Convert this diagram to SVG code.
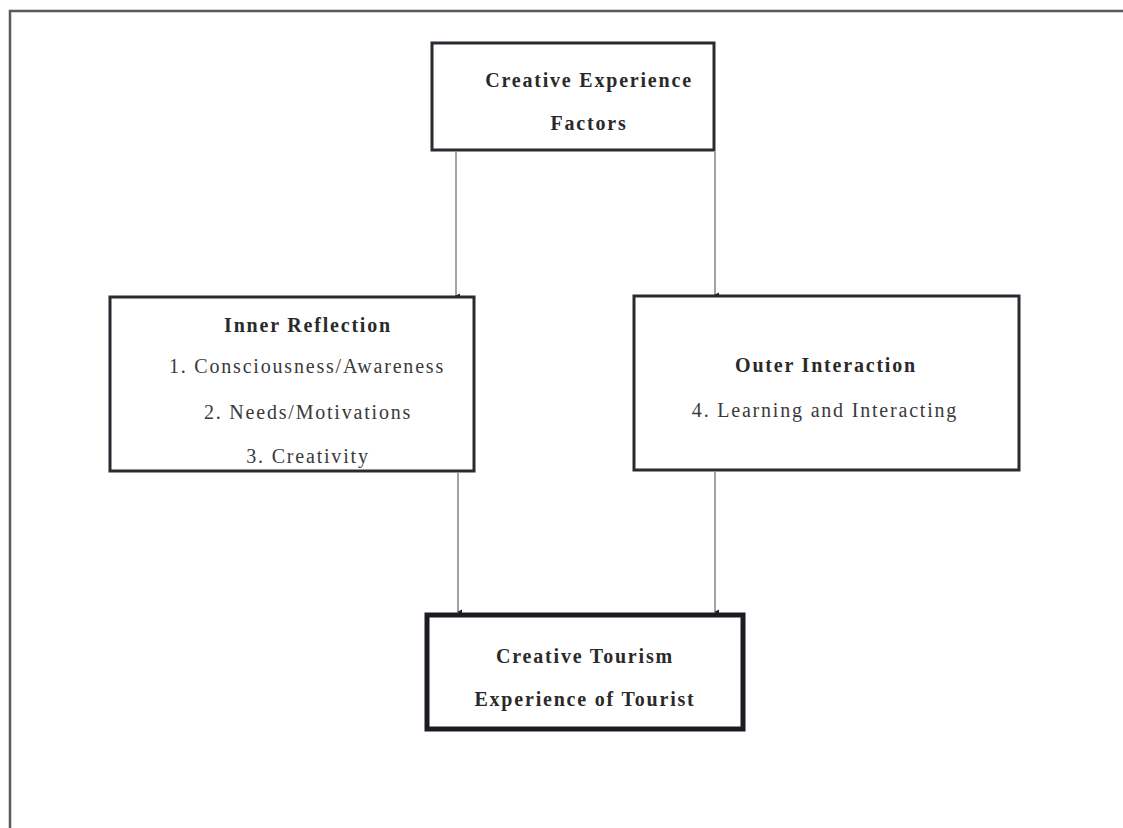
<svg xmlns="http://www.w3.org/2000/svg" width="1123" height="828" viewBox="0 0 1123 828">
<style>
.box{fill:#fff;stroke:#2a2a33;stroke-width:3}
.boxb{fill:#fff;stroke:#1e1a22;stroke-width:5}
.t{font-family:"Liberation Serif","Times New Roman",serif;font-size:20px;letter-spacing:1.8px;text-anchor:middle;fill:#3a3a3a}
.b{font-weight:bold;fill:#2a2a2a}
.c{stroke:#666;stroke-width:1.2;fill:none;marker-end:url(#ah)}
</style>
<defs>
<marker id="ah" markerWidth="6" markerHeight="6" refX="3" refY="5" orient="auto-start-reverse" markerUnits="userSpaceOnUse" viewBox="0 0 6 6">
<path d="M0.5,1 L5.5,1 L3,6 Z" fill="#222"/>
</marker>
</defs>
<rect width="1123" height="828" fill="#fff"/>
<g id="frame">
<path d="M10,828 L10,11 L1123,11" fill="none" stroke="#5a5a64" stroke-width="2.5"/>
</g>
<g id="connectors">
<line class="c" x1="456" y1="152" x2="456" y2="296"/>
<line class="c" x1="715" y1="152" x2="715" y2="295"/>
<line class="c" x1="458" y1="473" x2="458" y2="612"/>
<line class="c" x1="715" y1="472" x2="715" y2="612"/>
</g>
<g id="node-factors">
<rect class="box" x="432" y="43" width="282" height="107"/>
<text class="t b" x="589" y="87">Creative Experience</text>
<text class="t b" x="589" y="130">Factors</text>
</g>
<g id="node-inner">
<rect class="box" x="110" y="297" width="364" height="174"/>
<text class="t b" x="308" y="332">Inner  Reflection</text>
<text class="t" x="307" y="373">1. Consciousness/Awareness</text>
<text class="t" x="308" y="419">2. Needs/Motivations</text>
<text class="t" x="308" y="463">3. Creativity</text>
</g>
<g id="node-outer">
<rect class="box" x="634" y="296" width="385" height="174"/>
<text class="t b" x="826" y="372">Outer  Interaction</text>
<text class="t" x="825" y="417">4. Learning  and Interacting</text>
</g>
<g id="node-tourism">
<rect class="boxb" x="427" y="615" width="316" height="114"/>
<text class="t b" x="585" y="663">Creative Tourism</text>
<text class="t b" x="585" y="706">Experience  of Tourist</text>
</g>
</svg>
